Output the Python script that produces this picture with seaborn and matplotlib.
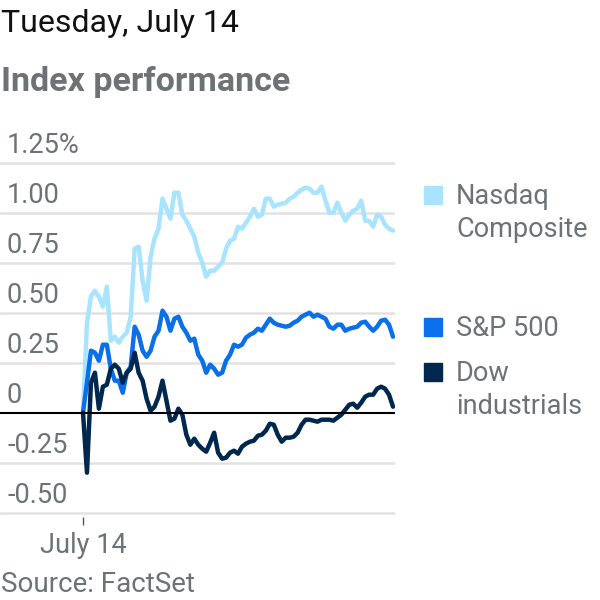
import numpy as np
import pandas as pd
import matplotlib
matplotlib.use("Agg")
import matplotlib.pyplot as plt
import matplotlib.transforms as mtransforms
from matplotlib.patches import Rectangle
import seaborn as sns

# Datos intradía (% de variación), lectura aproximada del gráfico original
nasdaq = [0.00, 0.45, 0.58, 0.61, 0.58, 0.53, 0.63, 0.36, 0.38, 0.35,
          0.38, 0.40, 0.48, 0.82, 0.83, 0.66, 0.56, 0.78, 0.87, 0.92,
          1.07, 1.02, 0.97, 1.10, 1.10, 0.99, 0.96, 0.92, 0.88, 0.80,
          0.75, 0.68, 0.71, 0.71, 0.73, 0.75, 0.82, 0.86, 0.87, 0.93,
          0.92, 0.95, 0.98, 1.02, 0.98, 0.99, 1.07, 1.07, 1.03, 1.04,
          1.045, 1.05, 1.07, 1.08, 1.10, 1.115, 1.125, 1.12, 1.10, 1.10,
          1.13, 1.06, 1.00, 1.00, 1.05, 1.00, 0.96, 0.99, 1.01, 1.02,
          1.06, 0.96, 0.96, 0.93, 0.99, 0.98, 0.94, 0.92, 0.91]
sp500 = [0.00, 0.15, 0.31, 0.30, 0.26, 0.34, 0.34, 0.22, 0.16, 0.16,
         0.10, 0.20, 0.23, 0.43, 0.39, 0.31, 0.28, 0.31, 0.38, 0.41,
         0.51, 0.48, 0.41, 0.47, 0.48, 0.43, 0.40, 0.36, 0.37, 0.29,
         0.26, 0.20, 0.24, 0.22, 0.19, 0.20, 0.26, 0.29, 0.34, 0.33,
         0.34, 0.375, 0.39, 0.40, 0.42, 0.41, 0.44, 0.47, 0.45, 0.44,
         0.435, 0.43, 0.435, 0.45, 0.46, 0.48, 0.49, 0.50, 0.48, 0.49,
         0.48, 0.47, 0.43, 0.42, 0.44, 0.44, 0.41, 0.42, 0.425, 0.43,
         0.45, 0.455, 0.43, 0.41, 0.43, 0.46, 0.465, 0.44, 0.38]
dow = [0.00, -0.30, 0.15, 0.20, 0.02, 0.13, 0.14, 0.22, 0.24, 0.22,
       0.15, 0.20, 0.22, 0.30, 0.20, 0.16, 0.07, 0.01, 0.03, 0.08,
       0.16, 0.06, -0.04, -0.03, 0.02, -0.01, -0.11, -0.16, -0.13, -0.16,
       -0.18, -0.195, -0.15, -0.10, -0.20, -0.23, -0.225, -0.20, -0.19, -0.205,
       -0.17, -0.155, -0.145, -0.14, -0.115, -0.11, -0.09, -0.055, -0.06, -0.11,
       -0.145, -0.125, -0.125, -0.12, -0.10, -0.06, -0.035, -0.035, -0.04, -0.045,
       -0.035, -0.035, -0.035, -0.04, -0.025, -0.01, 0.015, 0.04, 0.045, 0.025,
       0.05, 0.08, 0.09, 0.09, 0.12, 0.13, 0.12, 0.09, 0.03]

series_names = ["Nasdaq\nComposite", "S&P 500", "Dow\nindustrials"]
series_colors = ["#a8e4ff", "#0a6fe8", "#00274d"]
y_ticks = [1.25, 1.00, 0.75, 0.50, 0.25, 0.0, -0.25, -0.50]
y_labels = ["1.25%", "1.00", "0.75", "0.50", "0.25", "0", "-0.25", "-0.50"]
x_label = "July 14"

df = pd.DataFrame({
    "t": list(range(len(nasdaq))) * 3,
    "valor": nasdaq + sp500 + dow,
    "indice": [series_names[0]] * len(nasdaq) + [series_names[1]] * len(sp500)
              + [series_names[2]] * len(dow),
})

sns.set_theme(style="white")
plt.rcParams["font.family"] = ["Roboto", "DejaVu Sans"]

GRIS = "#6d7375"
FS = 19.5
W, H = 600, 600
fig = plt.figure(figsize=(6, 6), dpi=100)

# eje: de x=0 a 395 px, y de 158.7 a 516.7 px
ax = fig.add_axes([0, 1 - 516.7 / H, 395 / W, (516.7 - 158.7) / H])
n = len(nasdaq) - 1
px_unit = n / 310.0
ax.set_xlim(-83 * px_unit, n + 2 * px_unit)
ax.set_ylim(-0.52, 1.27)

for v in y_ticks:
    ax.axhline(v, color="#e2e2e2" if v != 0 else "black",
               lw=1.8 if v != 0 else 1.5, zorder=1 if v != 0 else 4)

sns.lineplot(data=df, x="t", y="valor", hue="indice", hue_order=series_names,
             palette=series_colors, lw=3.2, legend=False, ax=ax, zorder=3)

for s in ax.spines.values():
    s.set_visible(False)
ax.set_xlabel("")
ax.set_ylabel("")
ax.set_yticks([])
ax.set_xticks([0])
ax.set_xticklabels([x_label], fontsize=FS, color=GRIS)
ax.tick_params(axis="x", direction="out", length=6, width=1, color="#555555",
               pad=5, bottom=True)

# etiquetas del eje y encima de cada línea
trans = mtransforms.blended_transform_factory(ax.transAxes, ax.transData)
off = mtransforms.offset_copy(trans, fig=fig, x=0, y=10, units="dots")
for v, lab in zip(y_ticks, y_labels):
    ax.text(7 / 395, v, lab, transform=off, fontsize=FS, color=GRIS,
            ha="left", va="baseline")

# títulos
fig.text(1 / W, 1 - 32 / H, "Tuesday, July 14", fontsize=23, color="#111111",
         ha="left", va="baseline")
fig.text(1 / W, 1 - 91 / H, "Index performance", fontsize=24.5, color=GRIS,
         fontweight="bold", ha="left", va="baseline")
fig.text(1 / W, 1 - 592 / H, "Source: FactSet", fontsize=FS + 0.5, color=GRIS,
         ha="left", va="baseline")

# leyenda manual (línea base de la primera línea de cada etiqueta)
leg_base = [204, 336, 381]
for name, col, yb in zip(series_names, series_colors, leg_base):
    fig.patches.append(Rectangle((424 / W, 1 - yb / H), 18 / W, 18 / H,
                                 transform=fig.transFigure, color=col))
    for k, linea in enumerate(name.split("\n")):
        fig.text(456 / W, 1 - (yb + 33 * k) / H, linea, fontsize=FS,
                 color=GRIS, ha="left", va="baseline")

fig.savefig("out.png", dpi=100)
